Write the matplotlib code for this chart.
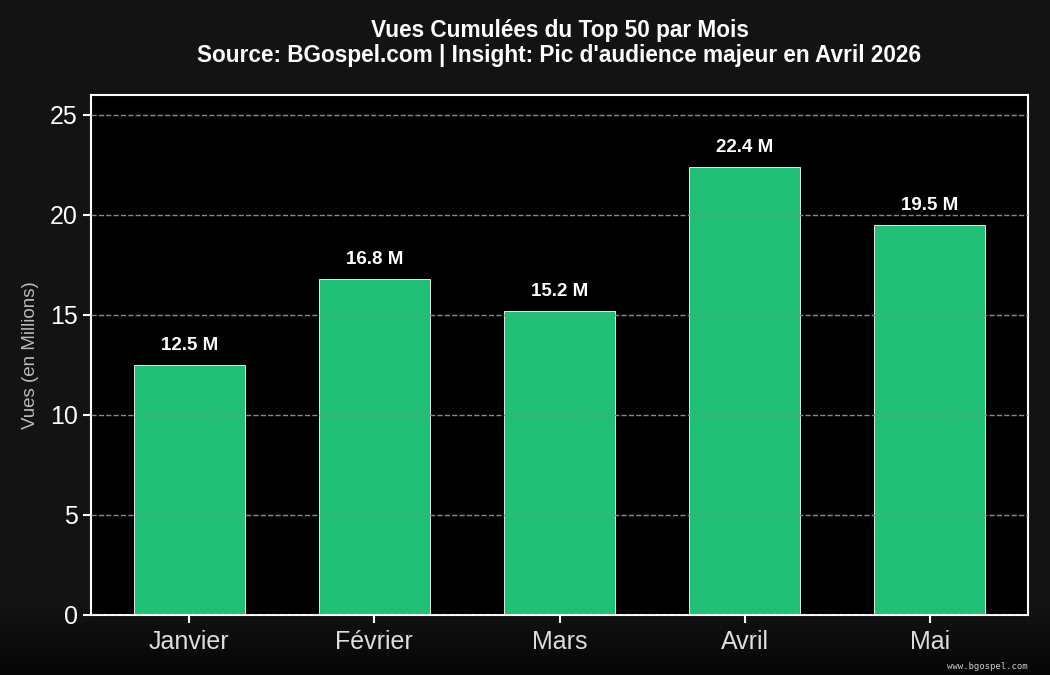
import numpy as np
import matplotlib
matplotlib.use("Agg")
import matplotlib.pyplot as plt

# Data
mois = ["Janvier", "Février", "Mars", "Avril", "Mai"]
vues = [12.5, 16.8, 15.2, 22.4, 19.5]

plt.rcParams['font.family'] = ['Liberation Sans', 'DejaVu Sans']

fig = plt.figure(figsize=(10.5, 6.75), dpi=100, facecolor='#141414')

# subtle dark gradient at the bottom of the figure
bg = fig.add_axes([0, 0, 1, 1], zorder=-10)
grad = np.ones((675, 1))
grad[600:, 0] = np.linspace(1, 0.3, 75)
bg.imshow(grad, aspect='auto', cmap='gray', vmin=0, vmax=1 / 0.078, extent=[0, 1, 0, 1])
bg.axis('off')

ax = fig.add_axes([91 / 1050, 60 / 675, 937 / 1050, 520 / 675])
ax.set_facecolor('black')

x = np.arange(len(mois))
bars = ax.bar(x, vues, width=0.6, color='#1fbf75', edgecolor='white', linewidth=0.6, zorder=2)
ax.grid(axis='y', color='#888888', linestyle='--', linewidth=1, zorder=3)
ax.set_axisbelow(False)

for rect, v in zip(bars, vues):
    ax.text(rect.get_x() + rect.get_width() / 2, v + 0.55, f"{v} M",
            ha='center', va='bottom', color='white', fontsize=13.5, fontweight='bold', zorder=4)

ax.set_ylim(0, 26)
ax.set_xticks(x)
ax.set_xticklabels(mois)
ax.tick_params(axis='x', colors='white', labelcolor='#dddddd', labelsize=18, length=6, width=1.5, pad=5)
ax.tick_params(axis='y', colors='white', labelsize=18, length=6, width=1.5)
for s in ax.spines.values():
    s.set_color('white')
    s.set_linewidth(1.5)

ax.set_ylabel("Vues (en Millions)", color='#bbbbbb', fontsize=13.5, labelpad=8)
ax.set_title("Vues Cumulées du Top 50 par Mois\nSource: BGospel.com | Insight: Pic d'audience majeur en Avril 2026",
             color='white', fontsize=16.3, fontweight='bold', pad=24, linespacing=1.08)

fig.text(0.979, 0.006, "www.bgospel.com", family='DejaVu Sans Mono', fontsize=6.5,
         color='#cccccc', ha='right', va='bottom')

fig.savefig("out.png", dpi=100, facecolor=fig.get_facecolor())
